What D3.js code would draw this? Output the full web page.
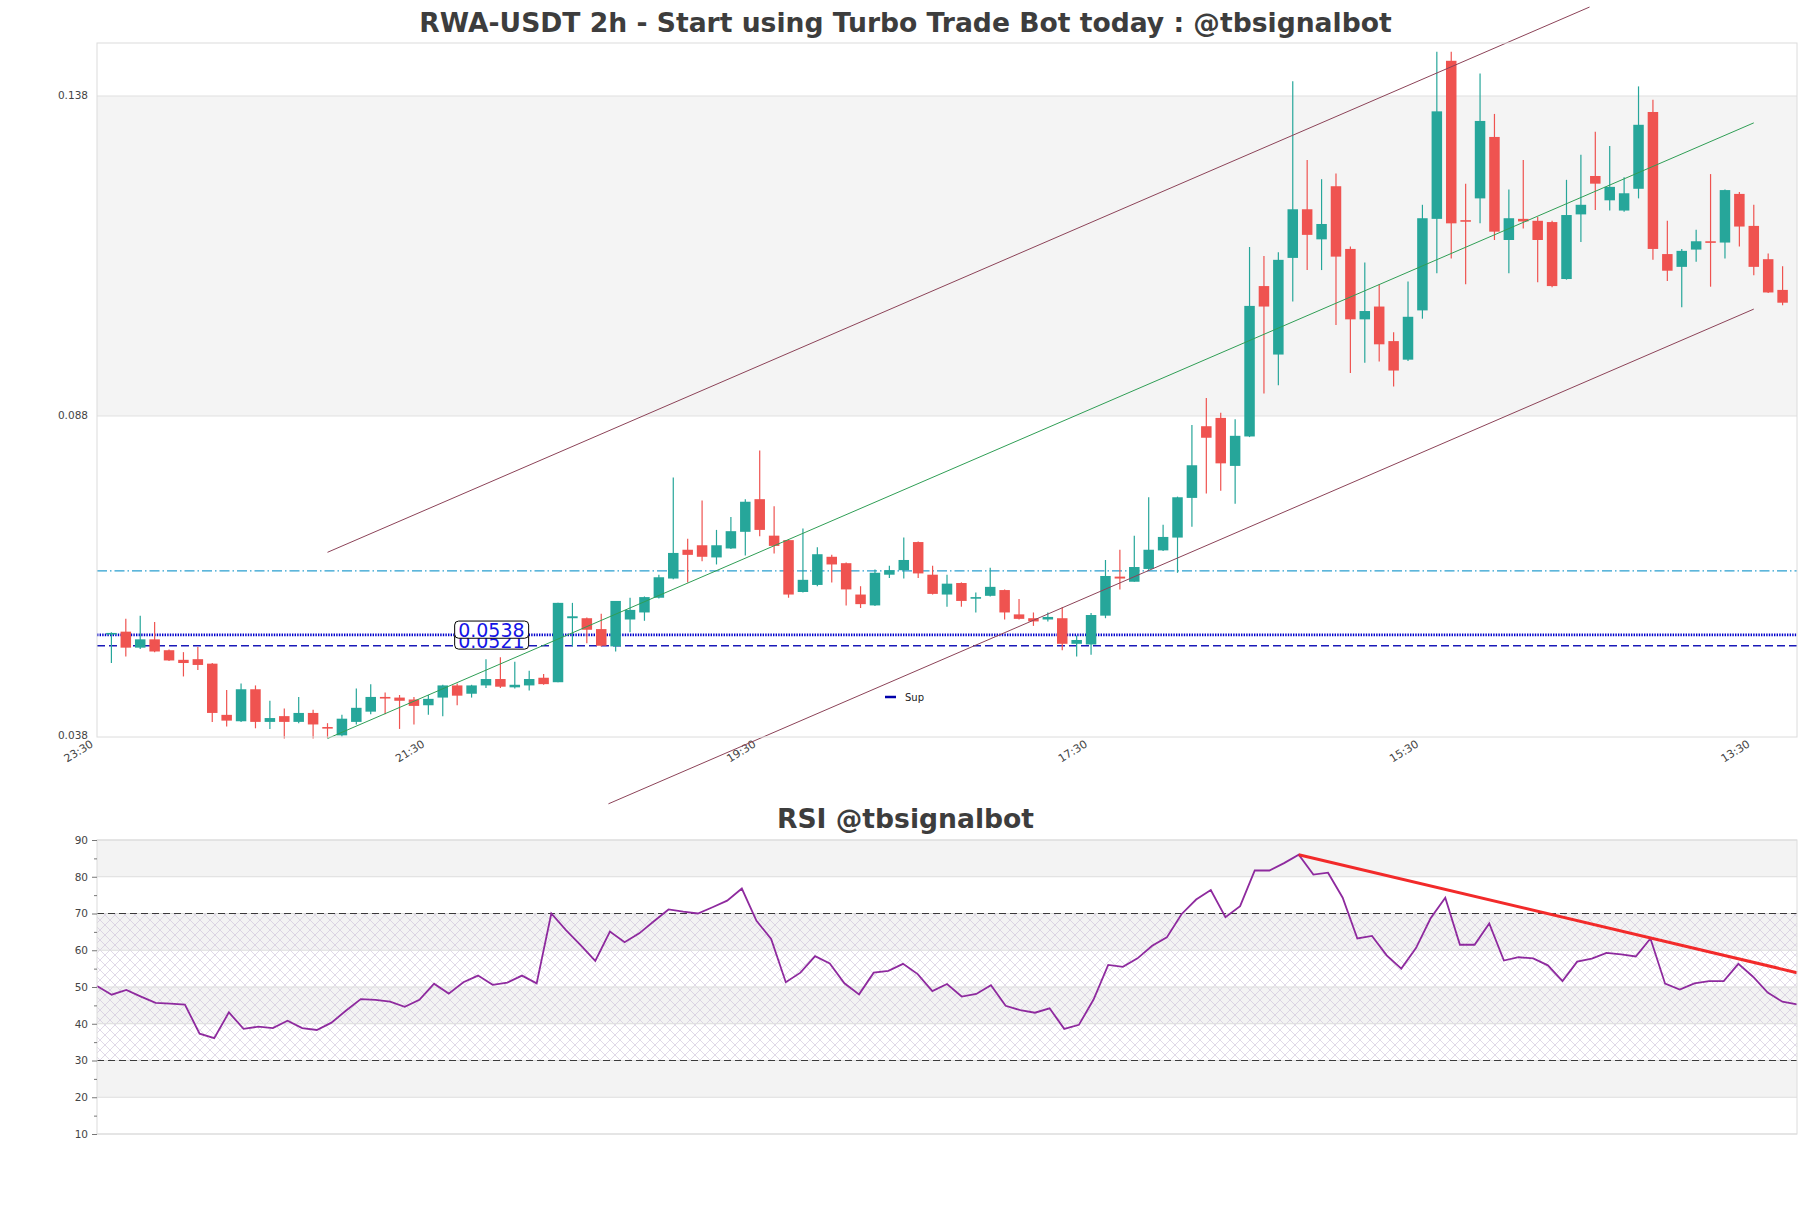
<!DOCTYPE html>
<html>
<head>
<meta charset="utf-8">
<script src="https://cdn.jsdelivr.net/npm/d3@7"></script>
<style>
  body { margin: 0; background: #fff; }
  svg { display: block; }
  text { font-family: "DejaVu Sans", sans-serif; }
</style>
</head>
<body>
<div id="chart"></div>
<script>
// candles, 2h, index 1..117
const opens = [0.0539,0.0543,0.0518,0.0531,0.0514,0.0499,0.0500,0.0493,0.0413,0.0403,0.0453,0.0402,0.0411,0.0402,0.0416,0.0394,0.0381,0.0402,0.0418,0.0441,0.0440,0.0437,0.0428,0.0440,0.0459,0.0446,0.0459,0.0469,0.0456,0.0459,0.0471,0.0464,0.0564,0.0564,0.0547,0.0520,0.0562,0.0573,0.0596,0.0626,0.0671,0.0678,0.0659,0.0673,0.0699,0.0750,0.0693,0.0686,0.0605,0.0616,0.0660,0.0650,0.0601,0.0584,0.0632,0.0639,0.0683,0.0632,0.0601,0.0619,0.0596,0.0599,0.0608,0.0570,0.0564,0.0562,0.0564,0.0524,0.0523,0.0568,0.0629,0.0621,0.0641,0.0670,0.0690,0.0752,0.0864,0.0877,0.0802,0.0848,0.1083,0.0976,0.1127,0.1203,0.1156,0.1239,0.1141,0.1031,0.1051,0.0997,0.0968,0.1045,0.1188,0.1435,0.1186,0.1220,0.1316,0.1155,0.1188,0.1185,0.1183,0.1094,0.1195,0.1255,0.1217,0.1201,0.1235,0.1355,0.1133,0.1113,0.1140,0.1153,0.1151,0.1227,0.1177,0.1125,0.1077];
const highs = [0.0542,0.0563,0.0568,0.0558,0.0515,0.0511,0.0519,0.0494,0.0452,0.0462,0.0459,0.0435,0.0423,0.0441,0.0421,0.0400,0.0413,0.0454,0.0461,0.0448,0.0444,0.0441,0.0444,0.0460,0.0462,0.0460,0.0500,0.0503,0.0496,0.0482,0.0477,0.0588,0.0588,0.0565,0.0571,0.0591,0.0596,0.0598,0.0632,0.0784,0.0688,0.0748,0.0702,0.0722,0.0750,0.0826,0.0739,0.0687,0.0704,0.0675,0.0663,0.0651,0.0614,0.0640,0.0646,0.0690,0.0684,0.0646,0.0632,0.0620,0.0604,0.0643,0.0609,0.0594,0.0573,0.0573,0.0581,0.0537,0.0572,0.0655,0.0671,0.0693,0.0753,0.0710,0.0754,0.0866,0.0908,0.0885,0.0875,0.1144,0.1130,0.1136,0.1403,0.1280,0.1250,0.1259,0.1145,0.1120,0.1086,0.1011,0.1090,0.1210,0.1449,0.1449,0.1243,0.1415,0.1352,0.1234,0.1280,0.1191,0.1185,0.1249,0.1288,0.1324,0.1302,0.1253,0.1395,0.1374,0.1185,0.1141,0.1171,0.1258,0.1234,0.1230,0.1210,0.1134,0.1114];
const lows = [0.0494,0.0504,0.0516,0.0511,0.0497,0.0473,0.0483,0.0402,0.0395,0.0402,0.0392,0.0391,0.0376,0.0400,0.0376,0.0377,0.0379,0.0398,0.0414,0.0414,0.0391,0.0398,0.0413,0.0411,0.0428,0.0440,0.0455,0.0455,0.0454,0.0451,0.0460,0.0464,0.0520,0.0525,0.0520,0.0512,0.0542,0.0560,0.0595,0.0625,0.0620,0.0653,0.0648,0.0672,0.0662,0.0692,0.0665,0.0596,0.0604,0.0614,0.0620,0.0584,0.0580,0.0583,0.0627,0.0626,0.0627,0.0601,0.0582,0.0582,0.0573,0.0598,0.0562,0.0562,0.0552,0.0559,0.0514,0.0504,0.0507,0.0564,0.0609,0.0621,0.0638,0.0669,0.0635,0.0707,0.0759,0.0763,0.0743,0.0847,0.0915,0.0928,0.1059,0.1108,0.1108,0.1022,0.0947,0.0963,0.0965,0.0926,0.0966,0.1032,0.1103,0.1126,0.1086,0.1181,0.1155,0.1103,0.1173,0.1089,0.1081,0.1093,0.1152,0.1202,0.1201,0.1199,0.1220,0.1124,0.1091,0.1050,0.1121,0.1082,0.1126,0.1145,0.1100,0.1072,0.1053];
const closes = [0.0541,0.0518,0.0531,0.0512,0.0498,0.0494,0.0491,0.0416,0.0404,0.0453,0.0402,0.0408,0.0402,0.0416,0.0398,0.0393,0.0407,0.0424,0.0441,0.0439,0.0435,0.0427,0.0438,0.0459,0.0443,0.0459,0.0469,0.0457,0.0460,0.0469,0.0461,0.0588,0.0567,0.0546,0.0521,0.0591,0.0577,0.0597,0.0628,0.0666,0.0663,0.0660,0.0678,0.0700,0.0746,0.0702,0.0677,0.0601,0.0624,0.0664,0.0648,0.0609,0.0586,0.0635,0.0639,0.0655,0.0634,0.0602,0.0618,0.0591,0.0597,0.0613,0.0573,0.0563,0.0559,0.0566,0.0524,0.0530,0.0569,0.0630,0.0626,0.0644,0.0671,0.0691,0.0753,0.0803,0.0846,0.0806,0.0849,0.1052,0.1051,0.1124,0.1203,0.1163,0.1180,0.1129,0.1031,0.1044,0.0992,0.0951,0.1035,0.1189,0.1356,0.1181,0.1184,0.1341,0.1168,0.1189,0.1184,0.1155,0.1083,0.1194,0.1210,0.1243,0.1238,0.1228,0.1335,0.1141,0.1107,0.1138,0.1153,0.1151,0.1233,0.1176,0.1113,0.1073,0.1057];

const rsiValues = [50.3,47.9,49.2,47.4,45.7,45.5,45.2,37.3,36.1,43.1,38.6,39.2,38.8,40.8,38.8,38.3,40.3,43.6,46.7,46.5,46.0,44.6,46.5,50.9,48.2,51.3,53.1,50.6,51.2,53.1,51.0,70.0,65.5,61.4,57.1,65.1,62.2,64.6,67.9,71.1,70.5,70.0,71.7,73.5,76.8,68.0,63.1,51.3,53.9,58.4,56.4,51.0,48.0,53.9,54.4,56.3,53.5,48.9,50.8,47.4,48.1,50.5,44.9,43.7,43.0,44.2,38.6,39.7,46.6,56.0,55.5,57.8,61.2,63.5,69.8,73.8,76.4,69.0,72.0,81.7,81.7,83.7,86.0,80.6,81.1,74.3,63.2,63.9,58.6,55.0,60.6,68.7,74.3,61.5,61.5,67.3,57.2,58.1,57.8,55.9,51.6,56.9,57.7,59.3,58.9,58.3,63.2,50.9,49.3,51.0,51.6,51.6,56.3,52.8,48.5,46.0,45.3];

const timeTicks = [0, 23, 46, 69, 92, 115];
const timeLabels = ["23:30", "21:30", "19:30", "17:30", "15:30", "13:30"];
const priceTicks = [0.038, 0.088, 0.138];
const rsiTicks = [10, 20, 30, 40, 50, 60, 70, 80, 90];

const supLevels = [0.0538, 0.0521];
const resLevel = 0.0638;
const channelUpper = [[16.0, 0.0667], [103.6, 0.1519]];
const channelMid = [[16.0, 0.0376], [115.0, 0.1338]];
const channelLower = [[35.5, 0.0274], [115.0, 0.1047]];
const rsiTrend = [[82, 86.0], [116, 53.9]];

const W = 1811, H = 1208;
const left = 97, right = 1797;
const main = {top: 43, bottom: 737};
const pane = {top: 840, bottom: 1134};

const svg = d3.select("#chart").append("svg")
  .attr("width", W).attr("height", H)
  .attr("viewBox", `0 0 ${W} ${H}`);

const x = d3.scaleLinear().domain([0, 118]).range([left, right]);
const y = d3.scaleLinear().domain([0.03784, 0.14628]).range([main.bottom, main.top]);
const xr = d3.scaleLinear().domain([0, 116]).range([left, right]);
const yr = d3.scaleLinear().domain([10, 90]).range([pane.bottom, pane.top]);

// titles
svg.append("text").attr("x", W / 2).attr("y", 32)
  .attr("text-anchor", "middle").attr("font-size", 26.6).attr("font-weight", "bold")
  .attr("fill", "#3d3d3d")
  .text("RWA-USDT 2h - Start using Turbo Trade Bot today : @tbsignalbot");

svg.append("text").attr("x", W / 2).attr("y", 828)
  .attr("text-anchor", "middle").attr("font-size", 26.6).attr("font-weight", "bold")
  .attr("fill", "#3d3d3d")
  .text("RSI @tbsignalbot");

// ---- main price pane ----
svg.append("rect")
  .attr("x", left).attr("y", y(0.138))
  .attr("width", right - left).attr("height", y(0.088) - y(0.138))
  .attr("fill", "#f4f4f4");

svg.selectAll(".pgrid").data(priceTicks.slice(1)).join("line")
  .attr("x1", left).attr("x2", right)
  .attr("y1", d => y(d)).attr("y2", d => y(d))
  .attr("stroke", "#e0e0e0").attr("stroke-width", 1);

svg.selectAll(".plabel").data(priceTicks).join("text")
  .attr("x", 88).attr("y", d => y(d) + 3.5)
  .attr("text-anchor", "end").attr("font-size", 10.5).attr("fill", "#444")
  .text(d => d3.format(".3f")(d));

svg.selectAll(".tlabel").data(timeTicks).join("text")
  .attr("transform", d => `translate(${x(d) - 3},${main.bottom + 9}) rotate(-32)`)
  .attr("text-anchor", "end").attr("font-size", 11).attr("fill", "#444")
  .text((d, i) => timeLabels[i]);

// horizontal levels
svg.append("line")
  .attr("x1", left).attr("x2", right)
  .attr("y1", y(resLevel)).attr("y2", y(resLevel))
  .attr("stroke", "#2a9fd0").attr("stroke-width", 1.3)
  .attr("stroke-dasharray", "10,3,1.5,3");

svg.append("line")
  .attr("x1", left).attr("x2", right)
  .attr("y1", y(supLevels[0])).attr("y2", y(supLevels[0]))
  .attr("stroke", "#0000cc").attr("stroke-width", 2.8)
  .attr("stroke-dasharray", "1.4,1.2");

svg.append("line")
  .attr("x1", left).attr("x2", right)
  .attr("y1", y(supLevels[1])).attr("y2", y(supLevels[1]))
  .attr("stroke", "#1a1ab8").attr("stroke-width", 1.5)
  .attr("stroke-dasharray", "8,4");

// candles
const candles = closes.map((c, i) => ({i: i + 1, o: opens[i], h: highs[i], l: lows[i], c: c}));
const bodyW = 10.5;
const cg = svg.append("g");
cg.selectAll(".wick").data(candles).join("line")
  .attr("x1", d => x(d.i)).attr("x2", d => x(d.i))
  .attr("y1", d => y(d.h)).attr("y2", d => y(d.l))
  .attr("stroke", d => d.c >= d.o ? "#26a69a" : "#ef5350").attr("stroke-width", 1.2);
cg.selectAll(".body").data(candles).join("rect")
  .attr("x", d => x(d.i) - bodyW / 2).attr("width", bodyW)
  .attr("y", d => y(Math.max(d.o, d.c)))
  .attr("height", d => Math.max(1.6, Math.abs(y(d.o) - y(d.c))))
  .attr("fill", d => d.c >= d.o ? "#26a69a" : "#ef5350");

// channel
const seg = d3.line().x(d => x(d[0])).y(d => y(d[1]));
svg.append("path").attr("d", seg(channelUpper)).attr("fill", "none").attr("stroke", "#8c4358").attr("stroke-width", 1);
svg.append("path").attr("d", seg(channelMid)).attr("fill", "none").attr("stroke", "#2f9e55").attr("stroke-width", 1);
svg.append("path").attr("d", seg(channelLower)).attr("fill", "none").attr("stroke", "#8c4358").attr("stroke-width", 1);

// level labels (lower one first, covered by upper)
[supLevels[1], supLevels[0]].forEach(v => {
  const g = svg.append("g");
  const rect = g.append("rect");
  const t = g.append("text")
    .attr("x", x(25) + 1).attr("y", y(v) + 2.5)
    .attr("font-size", 19).attr("fill", "#1414e6")
    .text(d3.format(".4f")(v));
  const len = t.node().getComputedTextLength();
  rect.attr("x", x(25) - 2.5).attr("y", y(v) - 13.8)
    .attr("width", len + 7.5).attr("height", 17.2)
    .attr("rx", 4).attr("fill", "#fff").attr("stroke", "#000").attr("stroke-width", 1);
});

// legend
svg.append("line").attr("x1", 885).attr("x2", 896).attr("y1", 697).attr("y2", 697)
  .attr("stroke", "#0000aa").attr("stroke-width", 2.5);
svg.append("text").attr("x", 905).attr("y", 700.5).attr("font-size", 10).attr("fill", "#222").text("Sup");

svg.append("rect").attr("x", left).attr("y", main.top)
  .attr("width", right - left).attr("height", main.bottom - main.top)
  .attr("fill", "none").attr("stroke", "#dcdcdc").attr("stroke-width", 1);

// ---- RSI pane ----
const defs = svg.append("defs");
const pat = defs.append("pattern").attr("id", "hatch")
  .attr("patternUnits", "userSpaceOnUse").attr("width", 10).attr("height", 10);
pat.append("path").attr("d", "M0,0L10,10M10,0L0,10M-1,9L1,11M9,-1L11,1")
  .attr("stroke", "#cbbfd8").attr("stroke-width", 0.6);

[[80, 90], [60, 70], [40, 50], [20, 30]].forEach(b => {
  svg.append("rect").attr("x", left).attr("y", yr(b[1]))
    .attr("width", right - left).attr("height", yr(b[0]) - yr(b[1]))
    .attr("fill", "#f3f3f3");
});
svg.append("rect").attr("x", left).attr("y", yr(70))
  .attr("width", right - left).attr("height", yr(30) - yr(70))
  .attr("fill", "url(#hatch)");

svg.selectAll(".rgrid").data(rsiTicks).join("line")
  .attr("x1", left).attr("x2", right)
  .attr("y1", d => yr(d)).attr("y2", d => yr(d))
  .attr("stroke", "#dddddd").attr("stroke-width", 1);

[70, 30].forEach(v => {
  svg.append("line").attr("x1", left).attr("x2", right)
    .attr("y1", yr(v)).attr("y2", yr(v))
    .attr("stroke", "#3a3a3a").attr("stroke-width", 1.2).attr("stroke-dasharray", "7,4");
});

svg.append("path").datum(rsiValues)
  .attr("d", d3.line().x((d, i) => xr(i)).y(d => yr(d)))
  .attr("fill", "none").attr("stroke", "#8e2a9e").attr("stroke-width", 1.8);

svg.append("path")
  .attr("d", d3.line().x(d => xr(d[0])).y(d => yr(d[1]))(rsiTrend))
  .attr("fill", "none").attr("stroke", "#f22a2a").attr("stroke-width", 3);

svg.append("rect").attr("x", left).attr("y", pane.top)
  .attr("width", right - left).attr("height", pane.bottom - pane.top)
  .attr("fill", "none").attr("stroke", "#dcdcdc").attr("stroke-width", 1);

const rsiAxis = d3.axisLeft(yr).tickValues(d3.range(10, 91, 5))
  .tickSize(0).tickFormat(d => d % 10 === 0 ? d : "");
const ag = svg.append("g").attr("transform", `translate(${left},0)`).call(rsiAxis);
ag.select(".domain").remove();
ag.selectAll(".tick line").attr("x2", d => d % 10 === 0 ? -5 : -3).attr("stroke", "#777");
ag.selectAll(".tick text").attr("x", -9).attr("font-size", 10.5).attr("fill", "#444")
  .attr("font-family", "DejaVu Sans");
</script>
</body>
</html>
